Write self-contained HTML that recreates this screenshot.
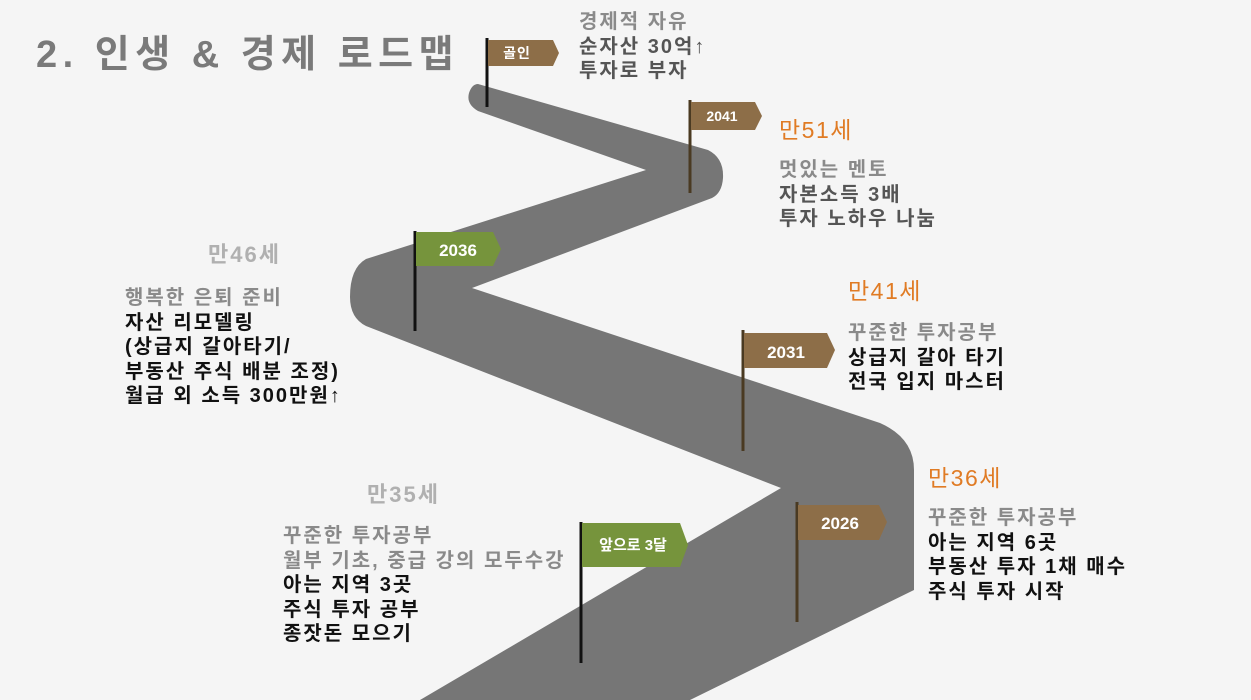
<!DOCTYPE html>
<html><head><meta charset="utf-8"><style>
body{margin:0;width:1251px;height:700px;overflow:hidden;background:#f5f5f5;position:relative;font-family:"Liberation Sans","Noto Sans CJK KR",sans-serif;}
.t{position:absolute;font-size:20px;line-height:24.5px;font-weight:bold;white-space:nowrap;color:#111;letter-spacing:2px;}
.g{color:#8a8a8a}.d{color:#555}.lg{color:#b0b0b0;font-size:22px}
.o{color:#e07b24;font-weight:normal;font-size:23px;letter-spacing:1.5px}
svg{position:absolute;left:0;top:0}
.ft{font-family:"Liberation Sans","Noto Sans CJK KR",sans-serif;font-weight:bold;fill:#fff;}
</style></head><body>
<svg width="1251" height="700">
<path fill="#767676" d="M478,84 L708,150 Q724,158 723,178 Q722,193 712,198 L472,288 L880,423 Q914,438 914,470 L914,590 L690,700 L420,700 L781,488 L366,326 Q350,318 350,297 Q350,268 366,259 L646,170 L478,111 Q466,104 469,93 Q472,84 478,84 Z"/>
<line x1="487" y1="38" x2="487" y2="107" stroke="#111" stroke-width="3"/>
<path fill="#8d6e48" d="M488,40 L553,40 L559,53 L553,66 L488,66 Z"/>
<text class="ft" x="517" y="58" font-size="14" text-anchor="middle" letter-spacing="1">골인</text>
<line x1="690" y1="100" x2="690" y2="193" stroke="#4a3a22" stroke-width="3"/>
<path fill="#8d6e48" d="M691,102 L755,102 L762,116 L755,130 L691,130 Z"/>
<text class="ft" x="722" y="121" font-size="14" text-anchor="middle">2041</text>
<line x1="415" y1="231" x2="415" y2="331" stroke="#111" stroke-width="3"/>
<path fill="#76943c" d="M416,232 L493,232 L501,249 L493,266 L416,266 Z"/>
<text class="ft" x="458" y="256" font-size="17" text-anchor="middle">2036</text>
<line x1="743" y1="330" x2="743" y2="451" stroke="#4a3a22" stroke-width="3"/>
<path fill="#8d6e48" d="M744,333 L827,333 L835,350 L827,368 L744,368 Z"/>
<text class="ft" x="786" y="358" font-size="17" text-anchor="middle">2031</text>
<line x1="797" y1="502" x2="797" y2="622" stroke="#4a3a22" stroke-width="3"/>
<path fill="#8d6e48" d="M798,505 L879,505 L887,522 L879,540 L798,540 Z"/>
<text class="ft" x="840" y="529" font-size="17" text-anchor="middle">2026</text>
<line x1="581" y1="522" x2="581" y2="663" stroke="#111" stroke-width="3"/>
<path fill="#76943c" d="M582,523 L680,523 L688,545 L680,567 L582,567 Z"/>
<text class="ft" x="633" y="550" font-size="15" text-anchor="middle">앞으로 3달</text>
</svg>
<div class="t" style="left:36px;top:32px;font-size:38px;line-height:46px;color:#7a7a7a;letter-spacing:5.5px">2. 인생 &amp; 경제 로드맵</div>

<div class="t" style="left:579px;top:10px"><span class="g">경제적 자유</span><br><span class="d">순자산 30억↑<br>투자로 부자</span></div>

<div class="t o" style="left:779px;top:118px">만51세</div>
<div class="t" style="left:779px;top:158px"><span class="g">멋있는 멘토</span><br><span class="d">자본소득 3배<br>투자 노하우 나눔</span></div>

<div class="t lg" style="left:208px;top:243px">만46세</div>
<div class="t" style="left:125px;top:286px"><span class="g">행복한 은퇴 준비</span><br>자산 리모델링<br>(상급지 갈아타기/<br>부동산 주식 배분 조정)<br>월급 외 소득 300만원↑</div>

<div class="t o" style="left:848px;top:279px">만41세</div>
<div class="t" style="left:848px;top:321px"><span class="g">꾸준한 투자공부</span><br>상급지 갈아 타기<br>전국 입지 마스터</div>

<div class="t o" style="left:928px;top:466px">만36세</div>
<div class="t" style="left:928px;top:506px"><span class="g">꾸준한 투자공부</span><br>아는 지역 6곳<br>부동산 투자 1채 매수<br>주식 투자 시작</div>

<div class="t lg" style="left:367px;top:483px">만35세</div>
<div class="t" style="left:283px;top:524px"><span class="g">꾸준한 투자공부<br>월부 기초, 중급 강의 모두수강</span><br>아는 지역 3곳<br>주식 투자 공부<br>종잣돈 모으기</div>
</body></html>
